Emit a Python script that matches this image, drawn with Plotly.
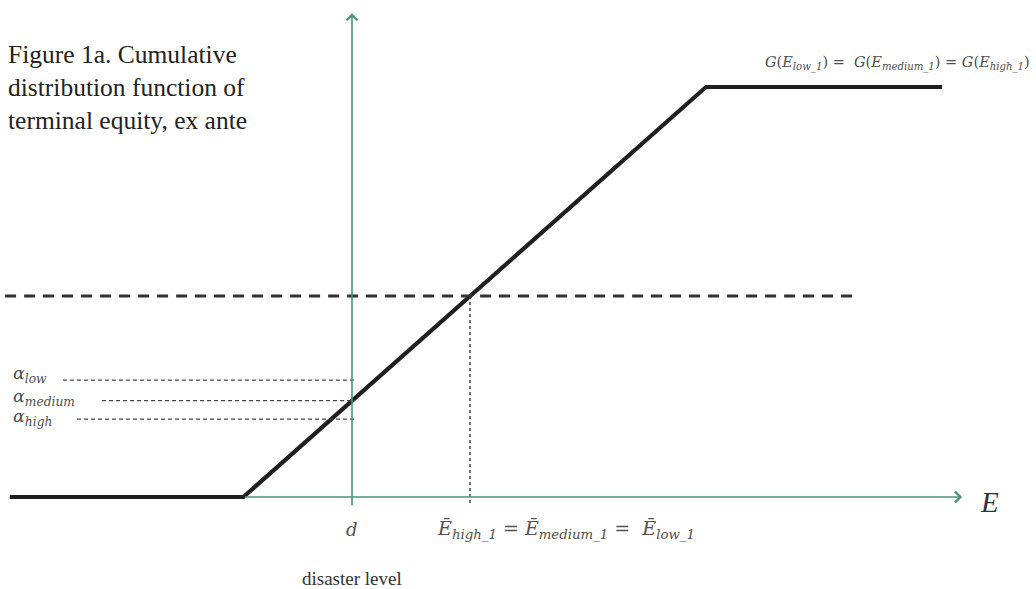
import plotly.graph_objects as go

# Ex-ante CDF of terminal equity (E on the horizontal axis, G(E) on the vertical)
cdf_E = [-1.45, -0.46, 1.50, 2.50]
cdf_G = [0.0, 0.0, 1.0, 1.0]

d_level = 0.0          # disaster level
E_bar = 0.50           # common expected terminal equity
G_bar = 0.49           # CDF value at E_bar

alpha_names = ["low", "medium", "high"]
alpha_values = [0.285, 0.235, 0.19]

# --- styling / layout constants ---
AXIS_GREEN = "#4c927c"
INK = "#1f1f1f"
LABEL_GREY = "#505050"
W, H = 1036, 589
X_RANGE = [-1.4915, 2.8983]
Y_RANGE = [-0.2244, 1.2122]

fig = go.Figure()

# CDF curve
fig.add_trace(go.Scatter(
    x=cdf_E, y=cdf_G, mode="lines",
    line=dict(color=INK, width=4.2),
    hoverinfo="skip", showlegend=False,
))

# heavy dashed level through the common mean
fig.add_trace(go.Scatter(
    x=[-1.47, 2.15], y=[G_bar, G_bar], mode="lines",
    line=dict(color="#333333", width=3, dash="11px,8px"),
    hoverinfo="skip", showlegend=False,
))

# dotted drop from the crossing to the E axis
fig.add_trace(go.Scatter(
    x=[E_bar, E_bar], y=[G_bar, -0.02], mode="lines",
    line=dict(color="#333333", width=1.4, dash="3px,3px"),
    hoverinfo="skip", showlegend=False,
))

# alpha levels: thin dashed guides ending at the disaster level
alpha_starts = {"low": -1.225, "medium": -1.059, "high": -1.165}
for name, val in zip(alpha_names, alpha_values):
    fig.add_trace(go.Scatter(
        x=[alpha_starts[name], d_level + 0.012], y=[val, val], mode="lines",
        line=dict(color="#444444", width=1.2, dash="4px,3px"),
        hoverinfo="skip", showlegend=False,
    ))

annotations = []

# axes with open arrowheads
annotations.append(dict(
    x=2.585, y=0.0, ax=-0.46, ay=0.0, xref="x", yref="y", axref="x", ayref="y",
    showarrow=True, arrowhead=4, arrowsize=1.3, arrowwidth=1.6,
    arrowcolor=AXIS_GREEN, text="",
))
annotations.append(dict(
    x=d_level, y=1.18, ax=d_level, ay=-0.024, xref="x", yref="y", axref="x", ayref="y",
    showarrow=True, arrowhead=4, arrowsize=1.3, arrowwidth=1.6,
    arrowcolor=AXIS_GREEN, text="",
))

math_font = dict(family="DejaVu Serif", color=LABEL_GREY)

# alpha labels
alpha_label_y = [0.298, 0.243, 0.195]
for name, yy in zip(alpha_names, alpha_label_y):
    annotations.append(dict(
        x=-1.445, y=yy, xref="x", yref="y", xanchor="left", yanchor="middle",
        text=f"<i>α<sub>{name}</sub></i>", showarrow=False,
        font=dict(size=17.5, **math_font),
    ))

# axis labels
annotations.append(dict(
    x=d_level, y=-0.08, xref="x", yref="y", text="<i>d</i>", showarrow=False,
    font=dict(size=18, **math_font),
))
annotations.append(dict(
    x=0.905, y=-0.08, xref="x", yref="y", showarrow=False,
    text="<i>Ē<sub>high_1</sub></i> = <i>Ē<sub>medium_1</sub></i> =  <i>Ē<sub>low_1</sub></i>",
    font=dict(size=19, **math_font),
))
annotations.append(dict(
    x=d_level, y=-0.198, xref="x", yref="y", text="disaster level", showarrow=False,
    font=dict(family="Liberation Serif", size=19, color="#333333"),
))
annotations.append(dict(
    x=2.70, y=-0.012, xref="x", yref="y", text="<i>E</i>", showarrow=False,
    font=dict(family="Liberation Serif", size=29, color="#333333"),
))
annotations.append(dict(
    x=2.31, y=1.058, xref="x", yref="y", showarrow=False,
    text="<i>G</i>(<i>E<sub>low_1</sub></i>) =  <i>G</i>(<i>E<sub>medium_1</sub></i>) = <i>G</i>(<i>E<sub>high_1</sub></i>)",
    font=dict(size=14.5, **math_font),
))

# figure caption
annotations.append(dict(
    x=6 / W, y=1 - 38 / H, xref="paper", yref="paper", xanchor="left", yanchor="top",
    align="left", showarrow=False,
    text="Figure 1a. Cumulative<br>distribution function of<br>terminal equity, ex ante",
    font=dict(family="Liberation Serif", size=25.5, color="#222222"),
))

fig.update_layout(
    width=W, height=H,
    margin=dict(l=0, r=0, t=0, b=0),
    paper_bgcolor="white", plot_bgcolor="white",
    xaxis=dict(range=X_RANGE, visible=False, fixedrange=True),
    yaxis=dict(range=Y_RANGE, visible=False, fixedrange=True),
    annotations=annotations,
    showlegend=False,
)

fig.write_html("out.html")
